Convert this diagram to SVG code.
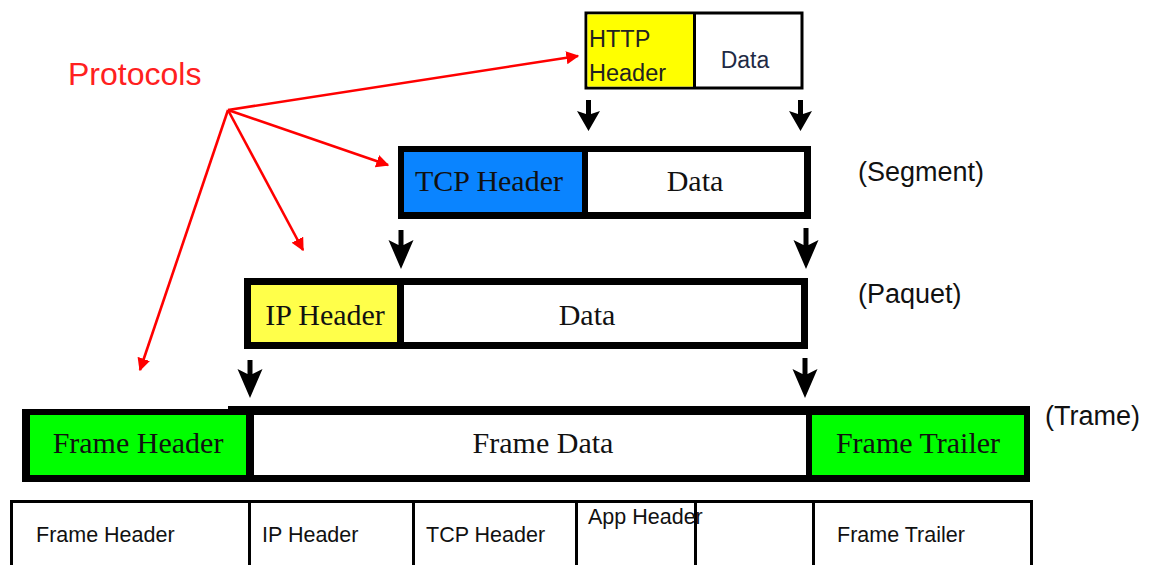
<svg xmlns="http://www.w3.org/2000/svg" width="1152" height="565" viewBox="0 0 1152 565">
<defs>
<style>
.sans{font-family:"Liberation Sans",Arial,sans-serif}
.serif{font-family:"Liberation Serif","Times New Roman",serif;font-size:30px;fill:#111;text-anchor:middle}
.lbl{font-family:"Liberation Sans",Arial,sans-serif;font-size:27px;fill:#111}
.cell{font-family:"Liberation Sans",Arial,sans-serif;font-size:21.5px;fill:#111}
.red{stroke:#ff0000;stroke-width:2.6;fill:none}
.blk{fill:#000}
</style>
<marker id="ra" viewBox="0 0 10 10" refX="9" refY="5" markerWidth="5" markerHeight="5" orient="auto" markerUnits="strokeWidth">
<path d="M0,0 L10,5 L0,10 Z" fill="#ff0000"/>
</marker>
</defs>
<rect width="1152" height="565" fill="#fff"/>

<text x="68" y="85" class="sans" font-size="32" fill="#ff2020">Protocols</text>

<g id="http">
<rect x="586" y="13" width="216" height="75" fill="#fff" stroke="#000" stroke-width="3"/>
<rect x="587.5" y="14.5" width="106" height="72" fill="#ffff00"/>
<line x1="694.5" y1="13" x2="694.5" y2="88" stroke="#000" stroke-width="3"/>
<text x="589" y="47" class="sans" font-size="23.5" fill="#222">HTTP</text>
<text x="589" y="81" class="sans" font-size="23.5" fill="#222">Header</text>
<text x="745" y="68" class="sans" font-size="23" fill="#1f2a44" text-anchor="middle">Data</text>
</g>

<g id="tcp">
<rect x="398" y="146" width="413" height="73" fill="#000"/>
<rect x="404" y="152" width="178" height="60" fill="#0a84ff"/>
<rect x="588" y="152" width="216" height="60" fill="#fff"/>
<text x="489" y="191" class="serif">TCP Header</text>
<text x="695" y="191" class="serif">Data</text>
</g>
<text x="858" y="181" class="lbl">(Segment)</text>

<g id="ip">
<rect x="244" y="278" width="564" height="71" fill="#000"/>
<rect x="251" y="285" width="146" height="57" fill="#ffff4a"/>
<rect x="404" y="285" width="397" height="57" fill="#fff"/>
<text x="325" y="325" class="serif">IP Header</text>
<text x="587" y="325" class="serif">Data</text>
</g>
<text x="858" y="303" class="lbl">(Paquet)</text>

<g id="frame">
<rect x="22" y="409" width="210" height="73" fill="#000"/>
<rect x="228" y="406" width="802" height="76" fill="#000"/>
<rect x="30" y="415" width="216" height="60" fill="#00ff00"/>
<rect x="254" y="415" width="552" height="60" fill="#fff"/>
<rect x="812" y="415" width="212" height="60" fill="#00ff00"/>
<text x="138" y="453" class="serif">Frame Header</text>
<text x="543" y="453" class="serif">Frame Data</text>
<text x="918" y="453" class="serif">Frame Trailer</text>
</g>
<text x="1045" y="425" class="lbl">(Trame)</text>

<g id="table">
<rect x="11.5" y="501.5" width="1020" height="80" fill="#fff" stroke="#000" stroke-width="3"/>
<line x1="249.5" y1="501" x2="249.5" y2="565" stroke="#000" stroke-width="3"/>
<line x1="413.5" y1="501" x2="413.5" y2="565" stroke="#000" stroke-width="3"/>
<line x1="576.5" y1="501" x2="576.5" y2="565" stroke="#000" stroke-width="3"/>
<line x1="695.5" y1="501" x2="695.5" y2="565" stroke="#000" stroke-width="3"/>
<line x1="813.5" y1="501" x2="813.5" y2="565" stroke="#000" stroke-width="3"/>
<text x="36" y="542" class="cell">Frame Header</text>
<text x="262" y="542" class="cell">IP Header</text>
<text x="426" y="542" class="cell">TCP Header</text>
<text x="588" y="524" class="cell">App Header</text>
<text x="837" y="542" class="cell">Frame Trailer</text>
</g>

<g id="connectors">
<line x1="228" y1="110" x2="578" y2="56" class="red" marker-end="url(#ra)"/>
<line x1="228" y1="110" x2="388" y2="165" class="red" marker-end="url(#ra)"/>
<line x1="228" y1="110" x2="303" y2="250" class="red" marker-end="url(#ra)"/>
<line x1="228" y1="110" x2="140" y2="370" class="red" marker-end="url(#ra)"/>
<path class="blk" d="M586,100 h5 v14 l9,-3 l-11.5,20 l-11.5,-20 l9,3 z"/>
<path class="blk" d="M798,100 h5 v14 l9,-3 l-11.5,20 l-11.5,-20 l9,3 z"/>
<path class="blk" d="M398.5,230 h5 v15 l10,-5 l-12.5,29 l-12.5,-29 l10,5 z"/>
<path class="blk" d="M803.5,228 h5 v17 l10,-5 l-12.5,29 l-12.5,-29 l10,5 z"/>
<path class="blk" d="M247.5,360 h5 v14 l10,-5 l-12.5,29 l-12.5,-29 l10,5 z"/>
<path class="blk" d="M802.5,358 h5 v16 l10,-5 l-12.5,29 l-12.5,-29 l10,5 z"/>
</g>
</svg>
